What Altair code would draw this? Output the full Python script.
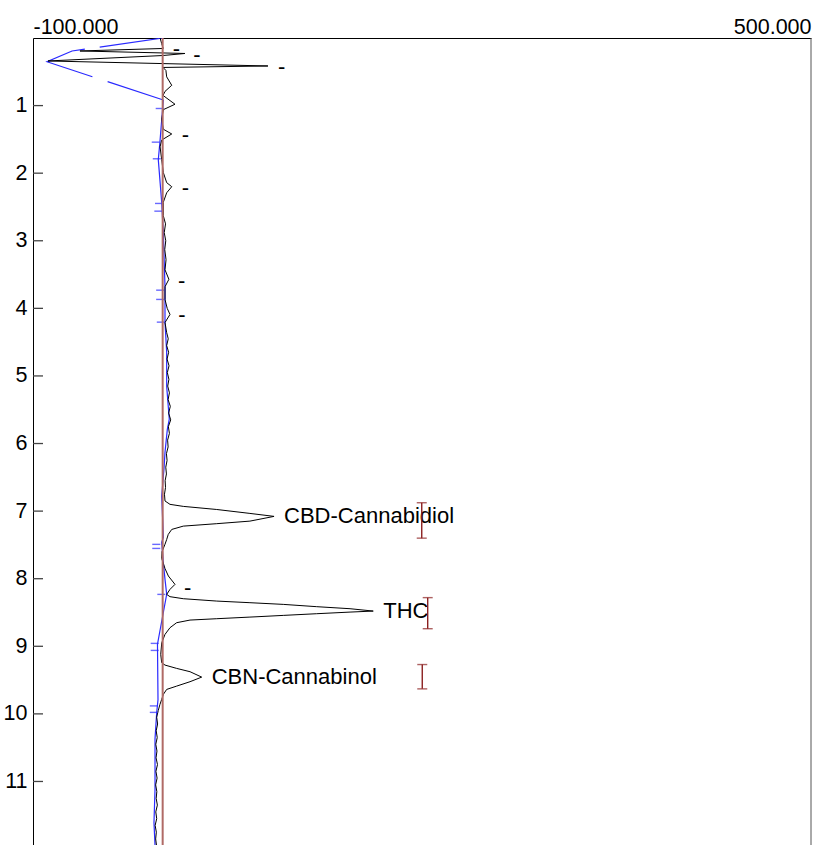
import altair as alt
import pandas as pd

FONT = "Liberation Sans"
FS = 21.5
FS_LABEL = 22

# Chromatogram trace (retention time [min], signal)
trace_t = [0.000, 0.080, 0.155, 0.192, 0.229, 0.259, 0.340, 0.414, 0.436, 0.480,
           0.575, 0.700, 0.790, 0.850, 0.980, 1.060, 1.200, 1.350, 1.420, 1.510,
           1.610, 1.800, 1.990, 2.140, 2.200, 2.290, 2.430, 2.630, 2.750, 2.880,
           3.000, 3.130, 3.280, 3.430, 3.570, 3.680, 3.870, 4.000, 4.090, 4.210,
           4.360, 4.45, 4.55, 4.65, 4.75, 4.85, 4.95, 5.05, 5.15, 5.25,
           5.35, 5.45, 5.55, 5.65, 5.75, 5.85, 5.95, 6.05, 6.15, 6.25,
           6.35, 6.45, 6.55, 6.65, 6.75, 6.85, 6.90, 6.93, 6.976, 7.034,
           7.078, 7.148, 7.186, 7.222, 7.271, 7.345, 7.42, 7.49, 7.60, 7.70,
           7.85, 7.96, 8.084, 8.158, 8.232, 8.266, 8.296, 8.331, 8.355, 8.38,
           8.414, 8.444, 8.479, 8.494, 8.518, 8.543, 8.568, 8.592, 8.612, 8.651,
           8.725, 8.824, 8.947, 9.12, 9.243, 9.278, 9.327, 9.376, 9.456, 9.524,
           9.589, 9.638, 9.712, 9.786, 9.86, 9.95, 10.05, 10.15, 10.25, 10.35,
           10.45, 10.55, 10.65, 10.75, 10.85, 10.95, 11.05, 11.15, 11.25, 11.35,
           11.45, 11.55, 11.65, 11.75, 11.85, 11.94]
trace_v = [-2.0, -0.8, 0.4, -63.8, 17.2, 0.3, -88.4, 81.2, 0.3, 2.5,
           3.1, 7.0, 1.8, 0.3, 9.5, 0.5, -0.75, 0.5, 7.0, -0.75,
           -2.0, -0.75, 0.5, 3.1, 7.0, 3.1, 0.5, 0.5, 2.2, 1.2,
           2.4, 1.6, 2.6, 1.8, 4.8, 1.8, 1.8, 3.5, 5.65, 1.8,
           3.1, 4.3, 3.1, 4.6, 3.4, 4.9, 3.6, 4.8, 3.9, 5.2,
           4.2, 5.9, 4.6, 6.2, 4.4, 5.2, 3.8, 4.2, 2.9, 3.4,
           2.4, 2.9, 1.9, 2.2, 1.4, 1.8, 5.65, 15.9, 41.7, 67.3,
           85.9, 67.3, 41.7, 15.9, 7.0, 4.3, 3.1, 1.8, -0.5, -0.75,
           1.8, 4.4, 9.5, 5.65, 3.1, 5.65, 15.9, 41.7, 67.3, 93.0,
           118.8, 144.5, 162.4, 144.5, 118.8, 93.0, 67.3, 41.7, 21.1, 10.8,
           5.65, 1.8, -0.7, -1.5, -0.75, 1.8, 10.8, 21.1, 30.1, 21.1,
           10.8, 3.1, 0.5, -0.75, -2.1, -3.4, -4.6, -3.9, -5.0, -4.2,
           -5.3, -4.4, -5.1, -4.0, -5.2, -4.3, -5.4, -4.5, -5.0, -4.1,
           -5.3, -4.6, -5.8, -4.9, -5.4, -4.8]

# Integration baseline (solid) and solvent-front baseline (dashed)
base_t = [0.917, 1.53, 1.80, 2.43, 2.88, 3.68, 4.21, 4.65, 5.155, 5.64,
          5.79, 6.13, 6.38, 6.78, 7.12, 7.39, 7.46, 7.76, 8.01, 8.23,
          8.97, 9.79, 9.98, 10.37, 11.12, 11.61, 11.94]
base_v = [0.5, -2.06, -3.37, -0.75, 0.5, 1.8, 1.8, 3.1, 3.1, 5.1,
          3.6, 1.8, 1.0, -0.75, 0.0, 0.5, -0.75, 0.5, 1.8, 3.1,
          -4.0, -3.6, -4.6, -5.9, -5.9, -6.7, -5.9]
front_t = [0.0, 0.192, 0.352, 0.917]
front_v = [0.3, -69.9, -89.2, 0.5]

# Peak start / end markers
mark_t = [1.043, 1.541, 1.787, 2.448, 2.562, 3.731, 3.868, 4.204, 7.492, 7.552,
          8.232, 8.957, 9.061, 9.882, 9.978]
mark_v = [-0.75, -3.8, -3.0, -1.3, -1.8, -0.4, -0.4, 0.1, -3.4, -3.4,
          0.5, -4.6, -4.6, -5.3, -5.3]

# Peak labels
label_t = [0.170, 0.254, 0.432, 1.438, 2.226, 3.59, 4.105, 8.133, 7.078, 8.479, 9.456]
label_v = [0.0, 15.9, 81.2, 7.0, 7.0, 4.1, 4.3, 8.7, 85.9, 162.4, 30.1]
label_s = ["-", "-", "-", "-", "-", "-", "-", "-", "CBD-Cannabidiol", "THC", "CBN-Cannabinol"]

# Expected retention windows
win_v = [199.8, 204.4, 200.2]
win_t0 = [6.876, 8.28, 9.27]
win_t1 = [7.40, 8.74, 9.63]

zero_line = [0.0]
y_ticks = [1, 2, 3, 4, 5, 6, 7, 8, 9, 10, 11]

XDOM = [-100, 500]
YDOM = [0, 11.94]

trace = pd.DataFrame({"t": trace_t, "v": trace_v, "i": range(len(trace_t))})
base = pd.DataFrame({"t": base_t, "v": base_v, "i": range(len(base_t))})
front = pd.DataFrame({"t": front_t, "v": front_v, "i": range(len(front_t))})
marks = pd.DataFrame({"t": mark_t, "v": mark_v})
labels = pd.DataFrame({"t": label_t, "v": label_v, "s": label_s})
wins = pd.DataFrame({"v": win_v, "t": win_t0, "t1": win_t1})
caps = pd.DataFrame({"v": win_v + win_v, "t": win_t0 + win_t1})
zero = pd.DataFrame({"v": zero_line, "t": [0.0]})
yt = pd.DataFrame({"t": y_ticks})

xs = alt.Scale(domain=XDOM, nice=False, zero=False)
ys = alt.Scale(domain=YDOM, nice=False, zero=False, reverse=True)

x_axis = alt.Axis(
    orient="top", values=XDOM, title=None, ticks=False, tickSize=0, grid=False,
    labelFlush=True, labelFont=FONT, labelFontSize=FS, labelColor="black",
    labelBaseline="alphabetic", labelPadding=5, domainColor="black", domainWidth=1,
    labelExpr="datum.value < 0 ? '-' + format(-datum.value, '.3f') : format(datum.value, '.3f')",
)
y_axis = alt.Axis(
    orient="left", values=y_ticks, title=None, ticks=False, tickSize=0, grid=False,
    labelFont=FONT, labelFontSize=FS, labelColor="black", labelPadding=6,
    domainColor="black", domainWidth=1, format="d",
)

X = alt.X("v:Q", scale=xs, axis=x_axis)
Y = alt.Y("t:Q", scale=ys, axis=y_axis)

front_layer = alt.Chart(front).mark_line(
    color="#2a2aff", strokeWidth=1.2, strokeDash=[64, 15, 88, 16], clip=True
).encode(x=X, y=Y, order="i:Q")

base_layer = alt.Chart(base).mark_line(color="#2a2aff", strokeWidth=1.2, clip=True).encode(
    x=X, y=Y, order="i:Q")

trace_layer = alt.Chart(trace).mark_line(color="black", strokeWidth=1, clip=True).encode(
    x=X, y=Y, order="i:Q")

mark_layer = alt.Chart(marks).mark_tick(
    orient="horizontal", color="#2a2aff", size=8, thickness=1.4, xOffset=-2
).encode(x=X, y=Y)

zero_layer = alt.Chart(zero).mark_rule(color="#b06a66", strokeWidth=2).encode(x=X)

label_layer = alt.Chart(labels).mark_text(
    align="left", baseline="middle", dx=10, font=FONT, fontSize=FS_LABEL, color="black"
).encode(x=X, y=Y, text="s:N")

win_layer = alt.Chart(wins).mark_rule(color="#8b2020", strokeWidth=1.4).encode(
    x=X, y=Y, y2="t1:Q")
cap_layer = alt.Chart(caps).mark_tick(
    orient="horizontal", color="#8b2020", size=10, thickness=1.4
).encode(x=X, y=Y)

ytick_layer = alt.Chart(yt).mark_rule(color="#444444", strokeWidth=1.3).encode(
    y=Y, x=alt.value(0), x2=alt.value(10))

right_border = alt.Chart(zero).mark_rule(color="#555555", strokeWidth=1).encode(
    x=alt.value(778))

chart = alt.layer(
    front_layer, base_layer, trace_layer, mark_layer, zero_layer,
    label_layer, win_layer, cap_layer, ytick_layer, right_border,
).properties(
    width=778, height=807,
    autosize=alt.AutoSizeParams(type="none"),
    padding={"left": 33, "top": 38, "right": 6, "bottom": 0},
    background="white",
).configure_view(stroke=None)

chart.save("out.html", embed_options={"renderer": "svg", "actions": False})
